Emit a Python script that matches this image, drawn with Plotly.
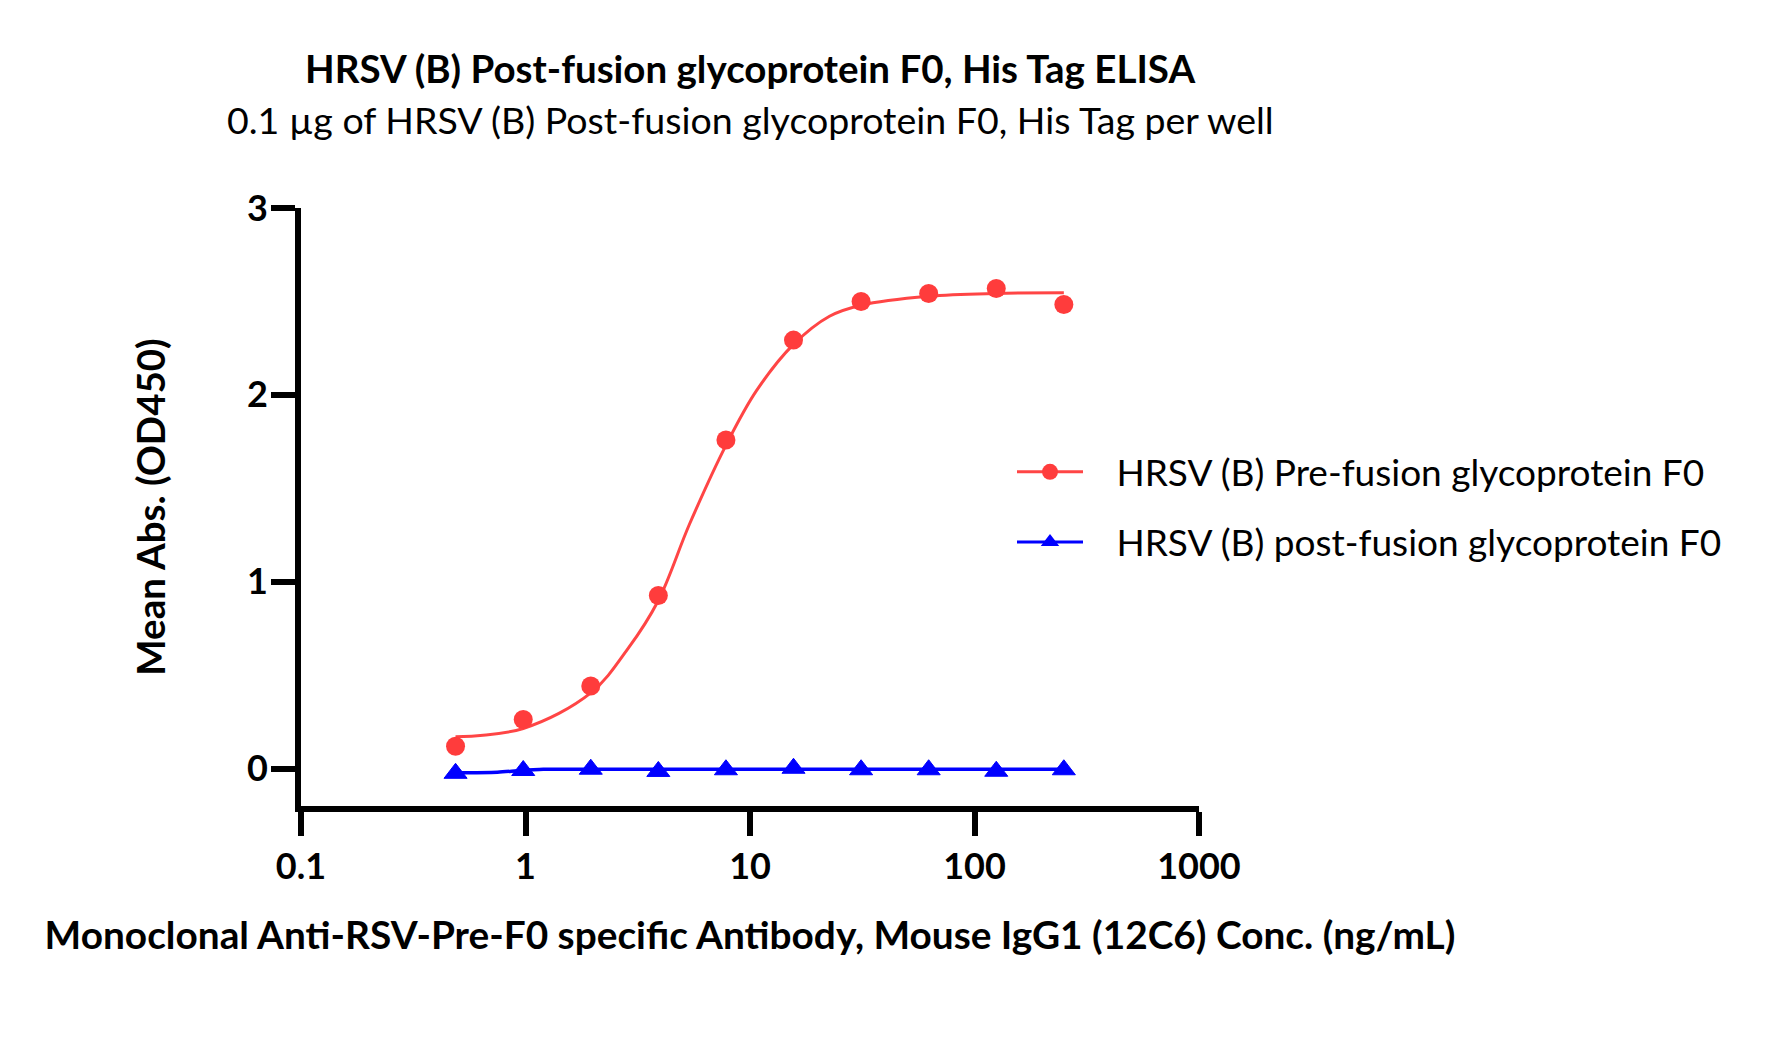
import plotly.graph_objects as go

# ---- data ----
conc = [0.488, 0.977, 1.953, 3.906, 7.8125, 15.625, 31.25, 62.5, 125, 250]
pre_fusion = [0.12, 0.263, 0.442, 0.926, 1.759, 2.293, 2.500, 2.542, 2.569, 2.484]
post_fusion = [-0.025, -0.010, -0.003, -0.015, -0.006, 0.002, -0.006, -0.006, -0.014, -0.006]

# fitted curves
pre_fit_x = [0.488, 0.977, 1.953, 2.86, 3.906, 5.38, 7.8125, 10.67, 15.625, 22.6, 31.25, 62.5, 125, 250]
pre_fit_y = [0.170, 0.215, 0.405, 0.642, 0.900, 1.309, 1.730, 2.021, 2.270, 2.421, 2.480, 2.528, 2.543, 2.546]
post_fit_x = [0.488, 0.75, 0.95, 1.2, 2.0, 250]
post_fit_y = [-0.022, -0.019, -0.010, -0.004, -0.004, -0.004]

title_text = "HRSV (B) Post-fusion glycoprotein F0, His Tag ELISA"
subtitle_text = "0.1 µg of HRSV (B) Post-fusion glycoprotein F0, His Tag per well"
x_title = "Monoclonal Anti-RSV-Pre-F0 specific Antibody, Mouse IgG1 (12C6) Conc. (ng/mL)"
y_title = "Mean Abs. (OD450)"
names = ["HRSV (B) Pre-fusion glycoprotein F0", "HRSV (B) post-fusion glycoprotein F0"]
x_tickvals = [0.1, 1, 10, 100, 1000]
x_ticktext = ["0.1", "1", "10", "100", "1000"]
y_tickvals = [0, 1, 2, 3]

RED = "#FF3C3C"
RED_LINE = "#FF4545"
BLUE = "#0000FF"
FONT = "Lato"
PAD = "\u00a0\u00a0\u00a0"

fig = go.Figure()
fig.add_trace(go.Scatter(x=pre_fit_x, y=pre_fit_y, mode="lines", line=dict(color=RED_LINE, width=3, shape="spline", smoothing=1.0),
                         showlegend=False, hoverinfo="skip"))
fig.add_trace(go.Scatter(x=post_fit_x, y=post_fit_y, mode="lines", line=dict(color=BLUE, width=3.5, shape="spline", smoothing=0.8),
                         showlegend=False, hoverinfo="skip"))
fig.add_trace(go.Scatter(x=conc, y=pre_fusion, mode="markers", marker=dict(symbol="circle", size=19, color=RED, line=dict(width=0)),
                         showlegend=False))
fig.add_trace(go.Scatter(x=conc, y=post_fusion, mode="markers",
                         marker=dict(symbol="triangle-up", size=20, color=BLUE, line=dict(width=1, color=BLUE)),
                         showlegend=False))
# legend entries
fig.add_trace(go.Scatter(x=[None], y=[None], mode="lines+markers", name=PAD + names[0], legendgroup="a",
                         line=dict(color=RED_LINE, width=3), marker=dict(symbol="circle", size=19, color=RED)))
fig.add_trace(go.Scatter(x=[None], y=[None], mode="lines+markers", name=PAD + names[1], legendgroup="b",
                         line=dict(color=BLUE, width=3), marker=dict(symbol="triangle-up", size=20, color=BLUE)))

fig.update_layout(
    width=1768, height=1053,
    margin=dict(l=301, r=569, t=208, b=247, autoexpand=False),
    paper_bgcolor="white", plot_bgcolor="white",
    font=dict(family=FONT, color="black"),
    showlegend=True,
    legend=dict(x=(1012 - 301) / 898, y=(806 - 441) / 598.5, xanchor="left", yanchor="top",
                font=dict(family=FONT, size=37, color="black"),
                tracegroupgap=19, itemwidth=66, bgcolor="rgba(0,0,0,0)"),
    annotations=[
        dict(text="<b>" + title_text + "</b>", xref="paper", yref="paper", x=0.5, y=(806 - 67) / 598.5,
             xanchor="center", yanchor="middle", showarrow=False, font=dict(family=FONT, size=38.5, color="black")),
        dict(text=subtitle_text, xref="paper", yref="paper", x=0.5, y=(806 - 118.5) / 598.5,
             xanchor="center", yanchor="middle", showarrow=False, font=dict(family=FONT, size=37.5, color="black")),
    ],
)
fig.update_xaxes(type="log", range=[-1, 3], tickvals=x_tickvals, ticktext=x_ticktext,
                 showline=True, linecolor="black", linewidth=6, ticks="outside", ticklen=24, tickwidth=6, tickcolor="black",
                 showgrid=False, zeroline=False, tickfont=dict(family=FONT, size=36, color="black", weight="bold"),
                 title=dict(text="<b>" + x_title + "</b>", font=dict(family=FONT, size=38.8, color="black"), standoff=38))
fig.update_yaxes(range=[-0.2, 3], tickvals=y_tickvals, showline=True, linecolor="black", linewidth=6, ticks="outside",
                 ticklen=24, tickwidth=6, tickcolor="black", showgrid=False, zeroline=False, ticklabelstandoff=-4,
                 tickfont=dict(family=FONT, size=36, color="black", weight="bold"),
                 title=dict(text="<b>" + y_title + "</b>", font=dict(family=FONT, size=38.5, color="black"), standoff=71))

fig.write_html("out.html")
